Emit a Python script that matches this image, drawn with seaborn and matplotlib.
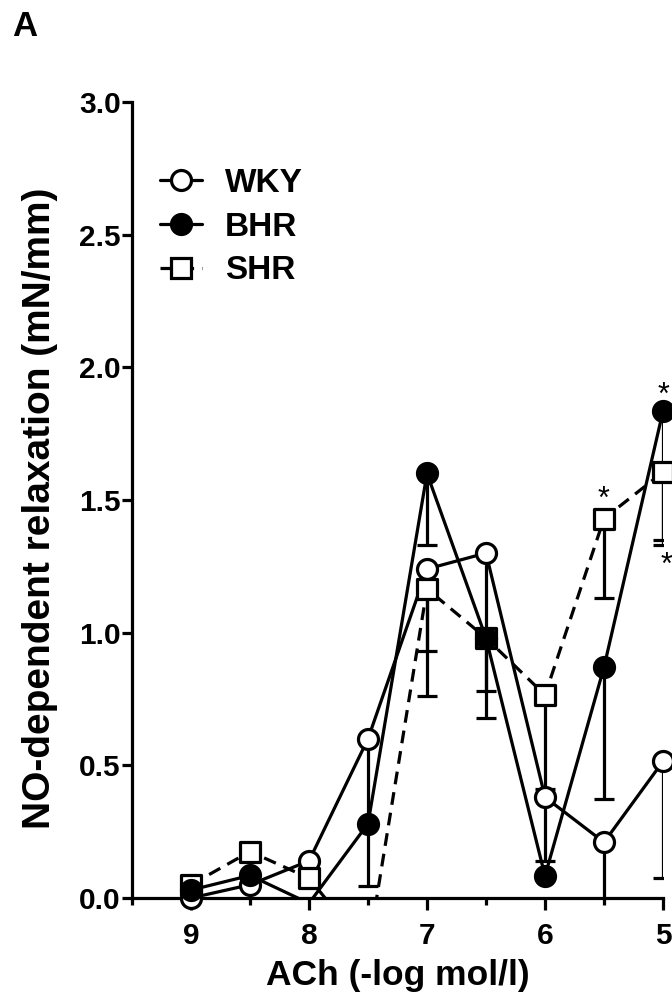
import matplotlib
matplotlib.use("Agg")
import matplotlib.pyplot as plt
import seaborn as sns
import pandas as pd
import numpy as np
from matplotlib.lines import Line2D
from matplotlib.ticker import FormatStrFormatter

# ---- data ----
conc = [9.0, 8.5, 8.0, 7.5, 7.0, 6.5, 6.0, 5.5, 5.0]
wky = [0.00, 0.05, 0.14, 0.60, 1.24, 1.30, 0.38, 0.21, 0.515]
wky_err = [0, 0, 0, 0.555, 0.48, 0.62, 0.24, 0.25, 0.44]
bhr = [0.03, 0.085, -0.02, 0.28, 1.60, 0.98, 0.083, 0.87, 1.835]
bhr_err = [0, 0, 0, 0, 0.27, 0, 0, 0.495, 0.505]
shr = [0.05, 0.175, 0.075, -0.20, 1.165, 0.98, 0.765, 1.43, 1.605]
shr_err = [0, 0, 0, 0, 0.235, 0.20, 0.355, 0.30, 0.255]
xticks = [9, 8, 7, 6, 5]
xminor = [9.5, 8.5, 7.5, 6.5, 5.5]
yticks = [0.0, 0.5, 1.0, 1.5, 2.0, 2.5, 3.0]

sns.set_style("ticks")
plt.rcParams['font.family'] = ['Liberation Sans', 'DejaVu Sans']
plt.rcParams.update({'text.color': 'black', 'axes.labelcolor': 'black',
                     'xtick.color': 'black', 'ytick.color': 'black',
                     'axes.edgecolor': 'black'})

PX = 72 / 100.0  # points per pixel at dpi 100
LW = 3.2 * PX

fig = plt.figure(figsize=(6.72, 10.07), dpi=100)
ax = fig.add_axes([132 / 672, 1 - 898 / 1007, (663 - 132) / 672, (898 - 102) / 1007])

series = [
    ("WKY", wky, wky_err, 'o', 'white', '-', 3),
    ("BHR", bhr, bhr_err, 'o', 'black', '-', 5),
    ("SHR", shr, shr_err, 's', 'white', (0, (4, 2.5)), 4),
]

msize = 20 * PX
for name, vals, errs, mk, fc, ls, zo in series:
    df = pd.DataFrame({'x': conc, 'y': vals, 'e': errs})
    sns.lineplot(data=df, x='x', y='y', ax=ax, color='black', lw=LW,
                 linestyle=ls, sort=False, zorder=2, legend=False)
    de = df[df.e > 0]
    ax.errorbar(de.x, de.y, yerr=[de.e, np.zeros(len(de))], fmt='none',
                ecolor='black', elinewidth=LW, capsize=10 * PX, capthick=LW,
                zorder=2.5)
    dm = df[df.y >= -0.005]
    sns.scatterplot(data=dm, x='x', y='y', ax=ax, marker=mk, s=msize ** 2,
                    color=fc, edgecolor='black', linewidth=LW, clip_on=False,
                    zorder=zo, legend=False)

# significance asterisks (ink centre ~13pt above baseline at 22pt)
ast = dict(fontsize=22, ha='center', va='baseline', color='black')
ax.annotate('*', (5.0, bhr[-1]), xytext=(0, 18 - 13), textcoords='offset points', **ast)
ax.annotate('*', (5.5, shr[-2]), xytext=(0, 21 - 13), textcoords='offset points', **ast)
ax.annotate('*', (5.0, shr[-1] - shr_err[-1]), xytext=(2.5, -11.5 - 13),
            textcoords='offset points', annotation_clip=False, **ast)

ax.set_xlim(9.5, 5.0)
ax.set_ylim(0, 3.0)
ax.set_xticks(xticks)
ax.set_xticks(xminor, minor=True)
ax.set_xticklabels([str(t) for t in xticks])
ax.set_yticks(yticks)
ax.yaxis.set_major_formatter(FormatStrFormatter('%.1f'))
sns.despine(ax=ax)
for s in ['left', 'bottom']:
    ax.spines[s].set_linewidth(LW)
ax.tick_params(axis='x', which='major', length=12 * PX, width=LW, pad=9,
               labelsize=21.5)
ax.tick_params(axis='x', which='minor', length=7 * PX, width=LW)
ax.tick_params(axis='y', which='major', length=10 * PX, width=LW, pad=1,
               labelsize=21.5)
for lab in ax.get_xticklabels() + ax.get_yticklabels():
    lab.set_fontweight('bold')

ax.set_xlabel('ACh (-log mol/l)', fontsize=25.5, fontweight='bold', labelpad=6)
ax.set_ylabel('NO-dependent relaxation (mN/mm)', fontsize=28,
              fontweight='bold')
ax.yaxis.set_label_coords(-0.14, 0.49)

handles = [
    Line2D([], [], color='black', lw=LW, ls='-', marker='o', markersize=msize,
           mfc='white', mec='black', mew=LW),
    Line2D([], [], color='black', lw=LW, ls='-', marker='o', markersize=msize,
           mfc='black', mec='black', mew=LW),
    Line2D([], [], color='black', lw=LW, ls=(0, (4, 2.5)), marker='s',
           markersize=msize, mfc='white', mec='black', mew=LW),
]
leg = ax.legend(handles, ['WKY', 'BHR', 'SHR'], loc='upper left',
                bbox_to_anchor=(0.053, 0.917), frameon=False, borderpad=0,
                borderaxespad=0, handlelength=1.25, handletextpad=0.7,
                labelspacing=0.38, prop={'size': 24, 'weight': 'bold'})

fig.text(12 / 672, 1 - 36 / 1007, 'A', fontsize=25, fontweight='bold',
         ha='left', va='baseline')

fig.savefig('out.png', dpi=100, facecolor='white')
